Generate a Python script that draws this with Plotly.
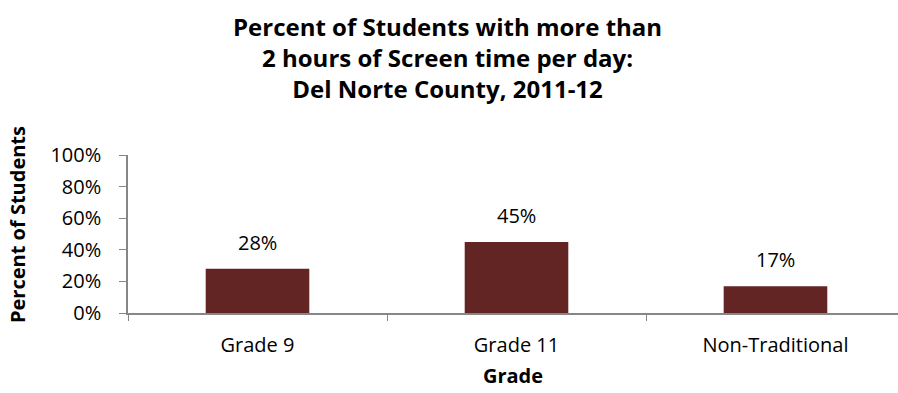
import plotly.graph_objects as go

categories = ["Grade 9", "Grade 11", "Non-Traditional"]
values = [0.28, 0.45, 0.17]
value_labels = ["28%", "45%", "17%"]
y_ticks = [0, 0.2, 0.4, 0.6, 0.8, 1.0]
y_tick_labels = ["0%", "20%", "40%", "60%", "80%", "100%"]
title_lines = ["Percent of Students with more than",
               "2 hours of Screen time per day:",
               "Del Norte County, 2011-12"]

FONT = "Open Sans"
BAR = "#632523"
AX = "#868686"

PLOT_TOP, PLOT_BOTTOM, PLOT_LEFT, W = 155, 313, 128, 898
PH, PW = PLOT_BOTTOM - PLOT_TOP, W - PLOT_LEFT

fig = go.Figure(go.Bar(x=categories, y=values, marker=dict(color=BAR, line=dict(width=0)),
                       width=0.4))

for c, v, t in zip(categories, values, value_labels):
    fig.add_annotation(x=c, y=v, text=t, showarrow=False, yanchor="bottom", yshift=11,
                       font=dict(family=FONT, size=20, color="#000000"))

# Title as annotation so it can be placed precisely
fig.add_annotation(
    xref="paper", yref="paper",
    x=(447 - PLOT_LEFT) / PW, xanchor="center",
    y=(PLOT_BOTTOM - 8) / PH, yanchor="top",
    text="<b>" + "<br>".join(title_lines) + "</b>", showarrow=False, align="center",
    font=dict(family=FONT, size=24, color="#000000"),
)

# Y-axis title as annotation (slightly above plot centre, as in reference)
fig.add_annotation(
    xref="paper", yref="paper",
    x=(17 - PLOT_LEFT) / PW, xanchor="center",
    y=(PLOT_BOTTOM - 225) / PH, yanchor="middle",
    text="<b>Percent of Students</b>", textangle=-90, showarrow=False,
    font=dict(family=FONT, size=20, color="#000000"),
)

fig.update_layout(
    width=W, height=393,
    margin=dict(l=PLOT_LEFT, r=0, t=PLOT_TOP, b=393 - PLOT_BOTTOM),
    paper_bgcolor="white", plot_bgcolor="white",
    showlegend=False,
    font=dict(family=FONT, size=20, color="#000000"),
)
fig.update_xaxes(
    range=[-0.5, 2.473], showline=True, linecolor=AX, linewidth=1.5,
    ticks="outside", tickson="boundaries", ticklen=6, tickcolor=AX,
    ticklabelstandoff=13,
    tickfont=dict(family=FONT, size=20), showgrid=False,
    title=dict(text="<b>Grade</b>", font=dict(family=FONT, size=20), standoff=12),
)
fig.update_yaxes(
    range=[0, 1], tickvals=y_ticks, ticktext=y_tick_labels,
    showline=True, linecolor=AX, linewidth=1.5, ticks="outside", ticklen=7, tickcolor=AX,
    ticklabelstandoff=14, tickfont=dict(family=FONT, size=20), showgrid=False, zeroline=False,
)
fig.write_html("out.html")
